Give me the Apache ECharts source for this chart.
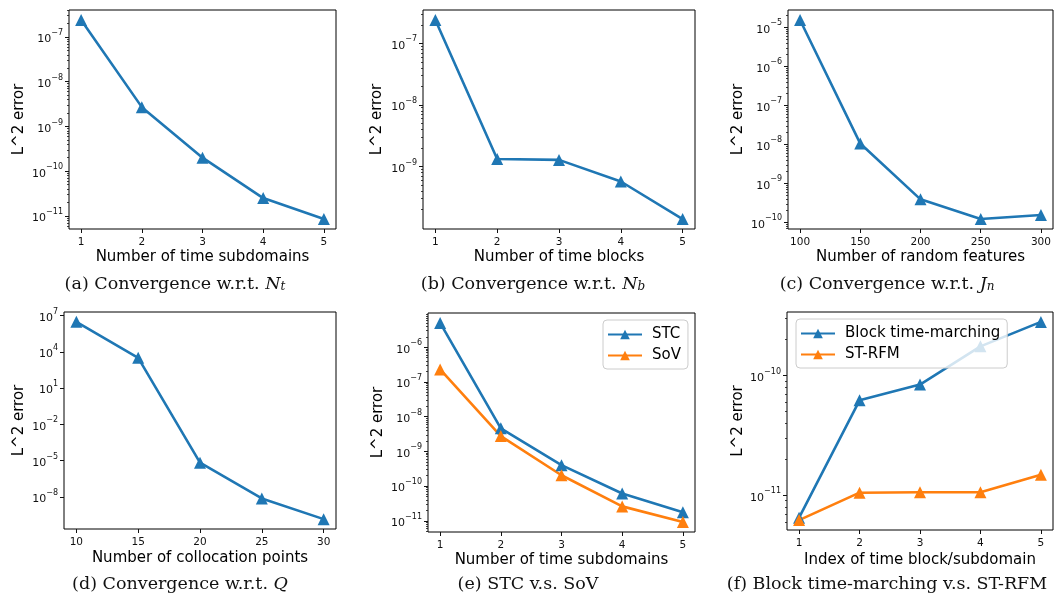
<!DOCTYPE html>
<html><head><meta charset="utf-8">
<script src="https://cdn.jsdelivr.net/npm/echarts@6/dist/echarts.min.js"></script>
<style>html,body{margin:0;padding:0;background:#fff}#c{width:1055px;height:598px}</style>
</head><body><div id="c"></div>
<script>
// ---------- data ----------
const xSubdomains = [1, 2, 3, 4, 5];
const xBlocks = [1, 2, 3, 4, 5];
const xFeatures = [100, 150, 200, 250, 300];
const xColloc = [10, 15, 20, 25, 30];
const xIndex = [1, 2, 3, 4, 5];

const errA = [2.4e-7, 2.7e-9, 2.0e-10, 2.5e-11, 8.5e-12];
const errB = [2.4e-7, 1.32e-9, 1.28e-9, 5.7e-10, 1.4e-10];
const errC = [1.55e-5, 1.05e-8, 3.9e-10, 1.22e-10, 1.55e-10];
const errD = [3.0e6, 3.2e3, 6.8e-6, 7.5e-9, 1.45e-10];
const errSTC = [5.0e-6, 4.6e-9, 4.0e-10, 6.1e-11, 1.75e-11];
const errSoV = [2.3e-7, 2.75e-9, 2.05e-10, 2.6e-11, 9.2e-12];
const errBlock = [6.5e-12, 6.2e-11, 8.4e-11, 1.75e-10, 2.8e-10];
const errSTRFM = [6.2e-12, 1.05e-11, 1.06e-11, 1.06e-11, 1.48e-11];

const xTicksSub = [1, 2, 3, 4, 5];
const xTicksFeat = [100, 150, 200, 250, 300];
const xTicksColl = [10, 15, 20, 25, 30];
const yTicksA = [1e-11, 1e-10, 1e-9, 1e-8, 1e-7];
const yTicksB = [1e-9, 1e-8, 1e-7];
const yTicksC = [1e-10, 1e-9, 1e-8, 1e-7, 1e-6, 1e-5];
const yTicksD = [1e-8, 1e-5, 1e-2, 1e1, 1e4, 1e7];
const yTicksE = [1e-11, 1e-10, 1e-9, 1e-8, 1e-7, 1e-6];
const yTicksF = [1e-11, 1e-10];

const xTitles = ['Number of time subdomains', 'Number of time blocks', 'Number of random features',
  'Number of collocation points', 'Number of time subdomains', 'Index of time block/subdomain'];
const yTitle = 'L^2 error';
const captions = [
  '{r|(a) Convergence w.r.t. }{i|N}{sub|t}',
  '{r|(b) Convergence w.r.t. }{i|N}{sub|b}',
  '{r|(c) Convergence w.r.t. }{i|J}{sub|n}',
  '{r|(d) Convergence w.r.t. }{i|Q}',
  '{r|(e) STC v.s. SoV}',
  '{r|(f) Block time-marching v.s. ST-RFM}'
];

// ---------- layout ----------
const BLUE = '#1f77b4', ORANGE = '#ff7f0e';
const SANS = 'DejaVu Sans';
const SERIF = 'DejaVu Serif';
const grids = [
  {left: 69, top: 10, width: 267, height: 219},
  {left: 423, top: 10, width: 272, height: 219},
  {left: 788, top: 10, width: 265, height: 219},
  {left: 64, top: 312, width: 272, height: 217},
  {left: 428, top: 313, width: 267, height: 219},
  {left: 787, top: 312, width: 266, height: 218}
];
const yNameGaps = [42, 38, 42, 37, 42, 41];
const xNameGaps = [21, 21, 21, 22, 21, 23];
const captionPos = [[175, 282], [533, 282], [887, 282], [180, 582], [528, 582], [887, 582]];

function linRange(xs) {
  const lo = Math.min(...xs), hi = Math.max(...xs), m = 0.05 * (hi - lo);
  return [lo - m, hi + m];
}
function logRange(arrs) {
  const v = [].concat(...arrs).map(Math.log10);
  const lo = Math.min(...v), hi = Math.max(...v), m = 0.05 * (hi - lo);
  return [Math.pow(10, lo - m), Math.pow(10, hi + m)];
}
function minors(r) {
  const out = [];
  for (let d = Math.floor(Math.log10(r[0])); d <= Math.ceil(Math.log10(r[1])); d++) {
    for (let k = 2; k <= 9; k++) {
      const v = k * Math.pow(10, d);
      if (v >= r[0] && v <= r[1]) out.push(v);
    }
  }
  return out;
}
function expLabel(v) {
  const n = Math.round(Math.log10(v));
  const s = n < 0 ? '\u2212' + (-n) : String(n);
  return '{b|10}{s|' + s + '}';
}

const panels = [
  {xs: xSubdomains, ys: [errA], names: ['Nt'], colors: [BLUE], xt: xTicksSub, yt: yTicksA, minor: true},
  {xs: xBlocks, ys: [errB], names: ['Nb'], colors: [BLUE], xt: xTicksSub, yt: yTicksB, minor: true},
  {xs: xFeatures, ys: [errC], names: ['Jn'], colors: [BLUE], xt: xTicksFeat, yt: yTicksC, minor: true},
  {xs: xColloc, ys: [errD], names: ['Q'], colors: [BLUE], xt: xTicksColl, yt: yTicksD, minor: false},
  {xs: xSubdomains, ys: [errSTC, errSoV], names: ['STC', 'SoV'], colors: [BLUE, ORANGE], xt: xTicksSub, yt: yTicksE, minor: true},
  {xs: xIndex, ys: [errBlock, errSTRFM], names: ['Block time-marching', 'ST-RFM'], colors: [BLUE, ORANGE], xt: xTicksSub, yt: yTicksF, minor: true}
];

const legendBase = {
  orient: 'vertical', itemWidth: 34, itemHeight: 12, itemGap: 6,
  padding: [7, 7, 6, 4], backgroundColor: 'rgba(255,255,255,0.8)', borderColor: '#cccccc', borderWidth: 1, borderRadius: 4,
  textStyle: {fontSize: 15, fontFamily: SANS, color: '#000', padding: [0, 0, 0, 5]}
};

const option = {
  animation: false,
  backgroundColor: '#fff',
  grid: [], xAxis: [], yAxis: [], series: [], graphic: [],
  legend: [
    Object.assign({data: ['STC', 'SoV'], left: 603, top: 320}, legendBase),
    Object.assign({data: ['Block time-marching', 'ST-RFM'], left: 796, top: 319}, legendBase)
  ]
};

panels.forEach((p, i) => {
  option.grid.push(Object.assign({show: true, borderColor: '#000', borderWidth: 1, backgroundColor: 'transparent',
    containLabel: false, outerBoundsMode: 'none'}, grids[i]));
  const xr = linRange(p.xs);
  const yr = logRange(p.ys);
  option.xAxis.push({
    type: 'value', gridIndex: i, min: xr[0], max: xr[1],
    axisLine: {show: false}, splitLine: {show: false},
    axisTick: {show: true, length: 4, customValues: p.xt, lineStyle: {color: '#111', width: 1}},
    axisLabel: {customValues: p.xt, fontSize: 10.5, fontFamily: SANS, color: '#111', margin: 8},
    name: xTitles[i], nameLocation: 'middle', nameGap: xNameGaps[i],
    nameTextStyle: {fontSize: 15, fontFamily: SANS, color: '#000'}
  });
  option.yAxis.push({
    type: 'log', logBase: 10, gridIndex: i, min: yr[0], max: yr[1], position: 'left',
    axisLine: {show: false}, splitLine: {show: false}, minorTick: {show: false},
    axisTick: {show: true, length: 4, customValues: p.yt, lineStyle: {color: '#111', width: 1}},
    axisLabel: {customValues: p.yt, formatter: expLabel, margin: 6, color: '#111',
      rich: {
        b: {fontSize: 11, fontFamily: SANS, color: '#111', lineHeight: 16, verticalAlign: 'bottom'},
        s: {fontSize: 8, fontFamily: SANS, color: '#111', lineHeight: 8, verticalAlign: 'top'}
      }},
    name: yTitle, nameLocation: 'middle', nameRotate: 90, nameGap: yNameGaps[i],
    nameTextStyle: {fontSize: 15, fontFamily: SANS, color: '#000'}
  });
  option.yAxis.push({
    type: 'log', logBase: 10, gridIndex: i, min: yr[0], max: yr[1], position: 'left',
    axisLine: {show: false}, splitLine: {show: false}, axisLabel: {show: false},
    axisTick: {show: p.minor, length: 2, customValues: p.minor ? minors(yr) : [], lineStyle: {color: '#111', width: 0.8}}
  });
  p.ys.forEach((ys, k) => {
    option.series.push({
      type: 'line', name: p.names[k], xAxisIndex: i, yAxisIndex: 2 * i,
      data: p.xs.map((x, j) => [x, ys[j]]),
      symbol: 'triangle', symbolSize: 12, showSymbol: true,
      lineStyle: {width: 2.6, color: p.colors[k]},
      itemStyle: {color: p.colors[k]},
      emphasis: {disabled: true}, silent: true
    });
  });
  option.graphic.push({
    type: 'text', x: captionPos[i][0], y: captionPos[i][1], silent: true,
    style: {
      text: captions[i], align: 'center', verticalAlign: 'middle',
      fontSize: 17.5, fontFamily: SERIF, fill: '#111',
      rich: {
        r: {fontSize: 17.5, fontFamily: SERIF, fill: '#111', lineHeight: 22, verticalAlign: 'bottom'},
        i: {fontSize: 17.5, fontFamily: SERIF, fontStyle: 'italic', fill: '#111', lineHeight: 22, verticalAlign: 'bottom'},
        sub: {fontSize: 12, fontFamily: SERIF, fontStyle: 'italic', fill: '#111', lineHeight: 8, verticalAlign: 'bottom'}
      }
    }
  });
});

const chart = echarts.init(document.getElementById('c'), null, {renderer: 'canvas'});
chart.setOption(option);
</script>
</body></html>
